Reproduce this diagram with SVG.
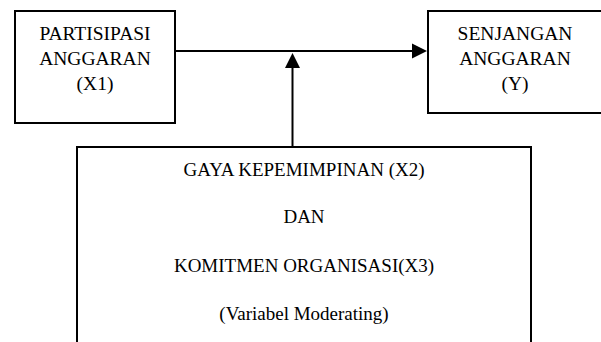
<svg xmlns="http://www.w3.org/2000/svg" width="601" height="342" viewBox="0 0 601 342">
<style>
.box{fill:#fff;stroke:#000;stroke-width:2}
.line{stroke:#000;stroke-width:2;fill:none}
.head{fill:#000}
text{font-family:"Liberation Serif","Times New Roman",serif;font-size:19px;fill:#000;text-anchor:middle}
.top{font-size:19.5px}
</style>
<rect width="601" height="342" fill="#fff"/>
<g id="connectors">
<line class="line" x1="175" y1="51" x2="413" y2="51"/>
<polygon class="head" points="412,43.5 427,51 412,58.5"/>
<line class="line" x1="292.5" y1="147" x2="292.5" y2="67"/>
<polygon class="head" points="285,68 292.5,53 300,68"/>
</g>
<g id="node-x1">
<rect class="box" x="15" y="11" width="160" height="112"/>
<text class="top" x="95" y="40">PARTISIPASI</text>
<text class="top" x="95" y="65">ANGGARAN</text>
<text class="top" x="95" y="90">(X1)</text>
</g>
<g id="node-y">
<rect class="box" x="428" y="11" width="180" height="102"/>
<text class="top" x="515" y="40">SENJANGAN</text>
<text class="top" x="515" y="65">ANGGARAN</text>
<text class="top" x="515" y="90">(Y)</text>
</g>
<g id="node-x2x3">
<rect class="box" x="77" y="147" width="454" height="210"/>
<text x="304" y="176">GAYA KEPEMIMPINAN (X2)</text>
<text x="304" y="223">DAN</text>
<text x="304" y="272">KOMITMEN ORGANISASI(X3)</text>
<text x="304" y="320">(Variabel Moderating)</text>
</g>
</svg>
